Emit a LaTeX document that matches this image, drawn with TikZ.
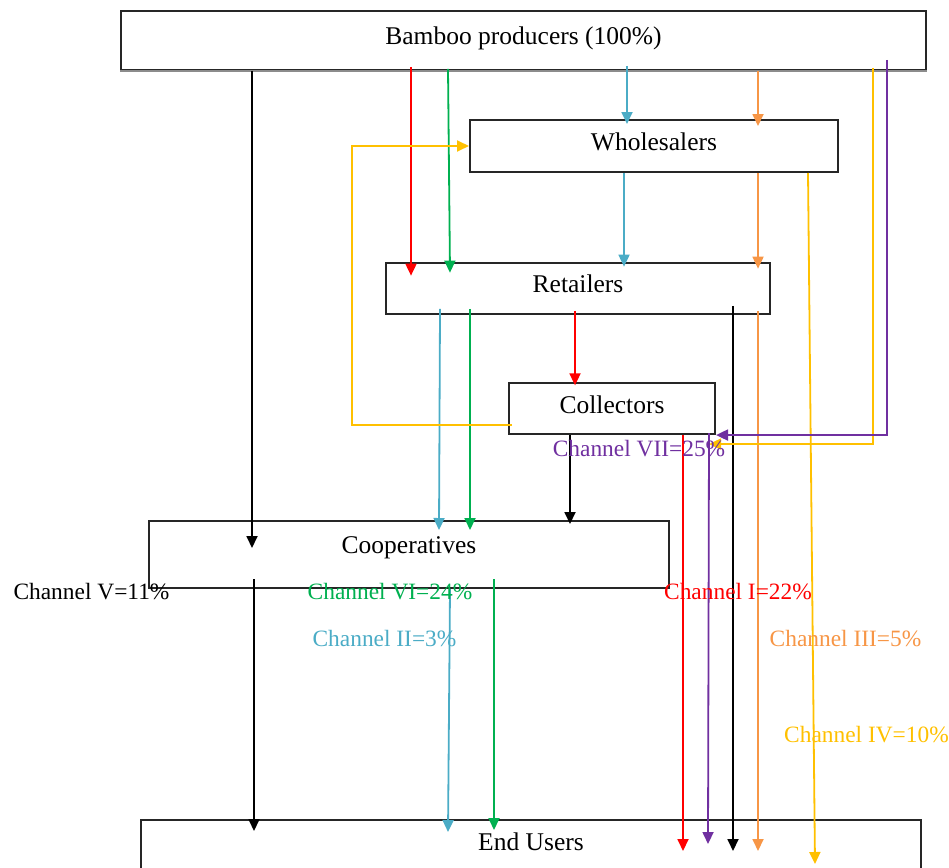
\documentclass[tikz,border=0pt]{standalone}
\usepackage{fontspec}
\setmainfont{Liberation Serif}
\usetikzlibrary{arrows.meta}
\definecolor{chred}{RGB}{255,0,0}
\definecolor{chgreen}{RGB}{0,176,80}
\definecolor{chblue}{RGB}{75,172,198}
\definecolor{chorange}{RGB}{247,150,70}
\definecolor{chyellow}{RGB}{255,192,0}
\definecolor{chpurple}{RGB}{112,48,160}
\tikzset{
  box/.style={draw=black!85, line width=2pt, rectangle, inner sep=0pt,
    text height=17pt, text depth=8pt, font=\fontsize{25.5}{30}\selectfont},
  ch/.style={line width=1.8pt, -{Triangle[length=12pt,width=11pt]}},
  lab/.style={anchor=base, inner sep=0pt, font=\fontsize{23.4}{28}\selectfont}
}

\begin{document}
\begin{tikzpicture}[x=1pt, y=-1pt]
\useasboundingbox (0,0) rectangle (949,867);
\clip (0,0) rectangle (949,867);
% boxes
\node[box, minimum width=805, minimum height=59.3] (bamboo) at (523.5,40.3) {Bamboo producers (100\%)};
\node[box, minimum width=368, minimum height=52] (whole) at (654,146) {Wholesalers};
\node[box, minimum width=384, minimum height=51.3] (retail) at (578,288.3) {Retailers};
\node[box, minimum width=206, minimum height=50.7] (collect) at (612,408.7) {Collectors};
\node[box, minimum width=520, minimum height=67, text depth=20pt] (coop) at (409,554.5) {Cooperatives};
\node[box, minimum width=780, minimum height=60.4, text depth=17pt] (endu) at (531,850.2) {End Users};
\draw[black!45, line width=2.5pt] (bamboo.south west) -- (bamboo.south east);
% black
\draw[ch] (bamboo.south -| 252,0) -- ([yshift=-28pt]coop.north -| 252,0);
\draw[ch] ([yshift=10pt]coop.south -| 254,0) -- ([yshift=-12pt]endu.north -| 254,0);
\draw[ch] (collect.south -| 570,0) -- ([yshift=-4pt]coop.north -| 570,0);
\draw[ch] ([yshift=9pt]retail.south -| 733,0) -- ([yshift=-32pt]endu.north -| 733,0);
% channel I
\draw[ch, chred] ([yshift=4pt]bamboo.south -| 411,0) -- ([yshift=-14pt]retail.north -| 411,0);
\draw[ch, chred] ([yshift=4pt]retail.south -| 575,0) -- ([yshift=-3pt]collect.north -| 575,0);
\draw[ch, chred] (collect.south -| 683,0) -- ([yshift=-32pt]endu.north -| 683,0);
% channel VI
\draw[ch, chgreen] ([yshift=2pt]bamboo.south -| 448,0) -- ([yshift=-11pt]retail.north -| 450,0);
\draw[ch, chgreen] ([yshift=6pt]retail.south -| 470,0) -- ([yshift=-10pt]coop.north -| 470,0);
\draw[ch, chgreen] ([yshift=10pt]coop.south -| 494,0) -- ([yshift=-11pt]endu.north -| 494,0);
% channel II
\draw[ch, chblue] ([yshift=5pt]bamboo.south -| 627,0) -- ([yshift=-5pt]whole.north -| 627,0);
\draw[ch, chblue] (whole.south -| 624,0) -- ([yshift=-5pt]retail.north -| 624,0);
\draw[ch, chblue] ([yshift=6pt]retail.south -| 440,0) -- ([yshift=-10pt]coop.north -| 439,0);
\draw[ch, chblue] (coop.south -| 450,0) -- ([yshift=-13pt]endu.north -| 448,0);
% channel III
\draw[ch, chorange] (bamboo.south -| 758,0) -- ([yshift=-7pt]whole.north -| 758,0);
\draw[ch, chorange] (whole.south -| 758,0) -- ([yshift=-7pt]retail.north -| 758,0);
\draw[ch, chorange] ([yshift=4pt]retail.south -| 758,0) -- ([yshift=-32pt]endu.north -| 758,0);
% channel IV
\draw[ch, chyellow] ([yshift=3pt]bamboo.south -| 873,0) |- ([shift={(-7pt,-9pt)}]collect.south east);
\draw[ch, chyellow] ([shift={(4pt,-16pt)}]collect.west) -| ([xshift=-117pt]whole.west) -- (whole.west);
\draw[ch, chyellow] (whole.south -| 808,0) -- ([yshift=-45pt]endu.north -| 815,0);
% channel VII
\draw[ch, chpurple] ([yshift=11pt]bamboo.south -| 887,0) |- (collect.south east);
\draw[ch, chpurple] ([shift={(-7pt,2pt)}]collect.south east) -- ([yshift=-25pt]endu.north -| 708,0);
% labels
\node[lab] (labV) at (91.5,599.3) {Channel V=11\%};
\node[lab, chgreen] (labVI) at (390,599) {Channel VI=24\%};
\node[lab, chred] (labI) at (738,599) {Channel I=22\%};
\node[lab, chblue] (labII) at (384.5,646) {Channel II=3\%};
\node[lab, chorange] (labIII) at (845.5,646) {Channel III=5\%};
\node[lab, chyellow] (labIV) at (866.5,742) {Channel IV=10\%};
\node[lab, chpurple] (labVII) at (639,456) {Channel VII=25\%};
\end{tikzpicture}
\end{document}
